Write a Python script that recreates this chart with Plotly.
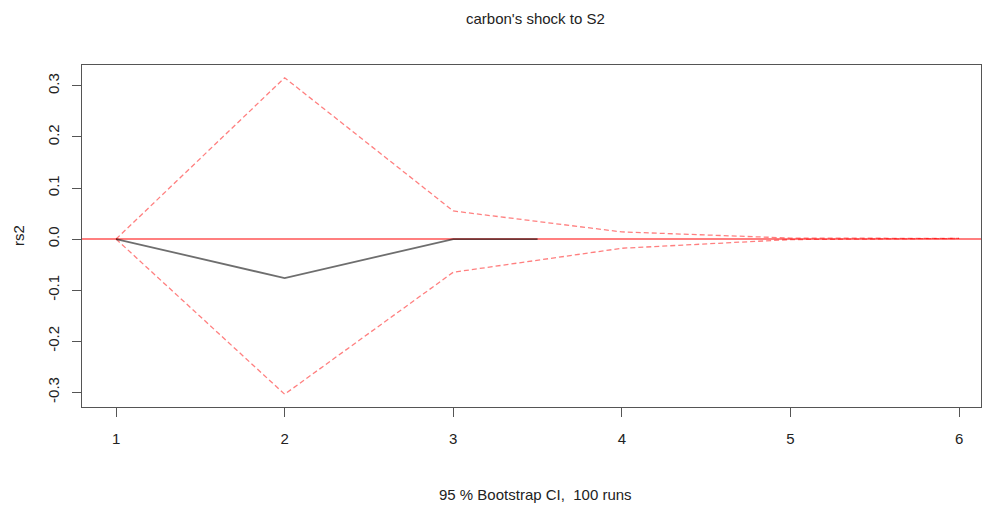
import plotly.graph_objects as go

# Data
steps = [1, 2, 3, 4, 5, 6]
upper_ci = [0.0, 0.316, 0.055, 0.014, 0.002, 0.0012]
lower_ci = [0.0, -0.304, -0.065, -0.018, -0.001, 0.0012]
irf_steps = [1, 2, 3, 3.5]
irf_rs2 = [0.0, -0.0765, 0.0, 0.0]

x_ticks = [1, 2, 3, 4, 5, 6]
y_ticks = [-0.3, -0.2, -0.1, 0.0, 0.1, 0.2, 0.3]
y_tick_text = ["-0.3", "-0.2", "-0.1", "0.0", "0.1", "0.2", "0.3"]

title_text = "carbon's shock to S2"
x_title = "95 % Bootstrap CI,  100 runs"
y_title = "rs2"

red_a = "rgba(255,0,0,0.5)"
font_family = "Liberation Sans, Arial, sans-serif"
text_color = "#222222"
fs = 15

fig = go.Figure()
fig.add_trace(go.Scatter(x=steps, y=upper_ci, mode="lines",
                         line=dict(color=red_a, width=1.3, dash="5px,3px"),
                         showlegend=False, hoverinfo="skip"))
fig.add_trace(go.Scatter(x=steps, y=lower_ci, mode="lines",
                         line=dict(color=red_a, width=1.3, dash="5px,3px"),
                         showlegend=False, hoverinfo="skip"))
fig.add_trace(go.Scatter(x=irf_steps, y=irf_rs2, mode="lines",
                         line=dict(color="rgba(0,0,0,0.57)", width=1.8),
                         showlegend=False, hoverinfo="skip"))

fig.add_shape(type="line", xref="paper", x0=0, x1=1, yref="y", y0=0, y1=0,
              line=dict(color=red_a, width=2), layer="below")

fig.update_layout(
    width=982, height=505,
    margin=dict(l=82, r=1, t=65, b=98),
    paper_bgcolor="white", plot_bgcolor="white",
    font=dict(family=font_family, size=fs, color=text_color),
    showlegend=False,
    xaxis=dict(range=[0.798, 6.13], tickvals=x_ticks, ticktext=[str(v) for v in x_ticks],
               showgrid=False, zeroline=False, showline=True, mirror=True,
               linecolor="#555555", linewidth=1.3,
               ticks="outside", ticklen=9, tickwidth=1, tickcolor="#555555",
               ticklabelstandoff=9, tickfont=dict(size=fs, color=text_color)),
    yaxis=dict(range=[-0.329, 0.341], tickvals=y_ticks, ticktext=y_tick_text,
               showgrid=False, zeroline=False, showline=True, mirror=True,
               linecolor="#555555", linewidth=1.3,
               ticks="outside", ticklen=9, tickwidth=1, tickcolor="#555555",
               tickangle=-90, ticklabelstandoff=7, tickfont=dict(size=fs, color=text_color)),
    annotations=[
        dict(text=title_text, xref="paper", yref="paper", x=0.505, y=1,
             yshift=47, showarrow=False, xanchor="center", yanchor="middle",
             font=dict(size=fs, color=text_color)),
        dict(text=x_title, xref="paper", yref="paper", x=0.505, y=0,
             yshift=-87, showarrow=False, xanchor="center", yanchor="middle",
             font=dict(size=fs, color=text_color)),
        dict(text=y_title, xref="paper", yref="paper", x=0, y=0.5,
             xshift=-64, showarrow=False, xanchor="center", yanchor="middle",
             textangle=-90, font=dict(size=fs, color=text_color)),
    ],
)

fig.write_html("out.html")
